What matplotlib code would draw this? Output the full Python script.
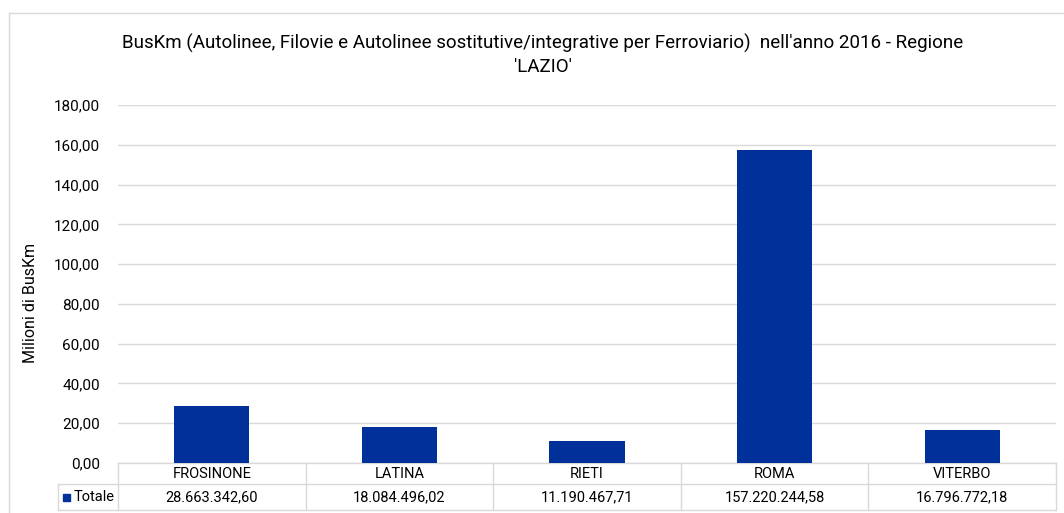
import matplotlib
matplotlib.use("Agg")
from matplotlib import pyplot as plt
import matplotlib.transforms as mtransforms

# data
province = ["FROSINONE", "LATINA", "RIETI", "ROMA", "VITERBO"]
buskm = [28663342.60, 18084496.02, 11190467.71, 157220244.58, 16796772.18]
buskm_labels = ["28.663.342,60", "18.084.496,02", "11.190.467,71", "157.220.244,58", "16.796.772,18"]
yticks = [0, 20, 40, 60, 80, 100, 120, 140, 160, 180]
series_name = "Totale"

narrow = "Roboto"

W, H = 1064, 513
fig = plt.figure(figsize=(W / 100, H / 100), dpi=100)
fig.patch.set_facecolor("white")

grid_col = "#d9d9d9"
bar_col = "#00309a"

# chart border
fig.add_artist(plt.Line2D([9 / W, 9 / W], [0, 1 - 13 / H], color=grid_col, lw=1))
fig.add_artist(plt.Line2D([9 / W, 1], [1 - 13 / H, 1 - 13 / H], color=grid_col, lw=1))

x0, x1, y0, y1 = 118, 1056, 463, 105
ax = fig.add_axes([x0 / W, 1 - y0 / H, (x1 - x0) / W, (y0 - y1) / H])

vals = [v / 1e6 for v in buskm]
ax.bar(range(len(province)), vals, width=0.4, color=bar_col, zorder=3)
ax.set_xlim(-0.5, len(province) - 0.5)
ax.set_ylim(0, 180)
ax.set_yticks(yticks)
ax.set_yticklabels(["%d,00" % t for t in yticks], fontfamily=narrow, fontsize=11)
ax.set_xticks([])
ax.tick_params(axis="y", length=0, pad=13)
ax.grid(axis="y", color=grid_col, lw=1, zorder=0)
for s in ax.spines.values():
    s.set_visible(False)
ax.set_ylabel("Milioni di BusKm", fontfamily=narrow, fontsize=11.5)
# centred on plot area + table, like the original
ax.yaxis.set_label_coords(-80 / (x1 - x0), (y0 - 303) / (y0 - y1))

fig.suptitle("BusKm (Autolinee, Filovie e Autolinee sostitutive/integrative per Ferroviario)  nell'anno 2016 - Regione\n'LAZIO'",
             fontfamily=narrow, fontsize=13.5, y=1 - 34 / H, va="top", x=543 / W, linespacing=1.35)

# data table below the axis
trans = mtransforms.blended_transform_factory(ax.transData, fig.transFigure)
def fy(p):
    return 1 - p / H
r0, r1, r2 = 463, 484, 510
n = len(province)
ln = dict(color=grid_col, lw=1, clip_on=False)
ax.plot([-0.5, n - 0.5], [fy(r0), fy(r0)], transform=trans, **ln)
fig.add_artist(plt.Line2D([58 / W, x1 / W], [fy(r1), fy(r1)], **ln))
fig.add_artist(plt.Line2D([58 / W, x1 / W], [fy(r2), fy(r2)], **ln))
fig.add_artist(plt.Line2D([58 / W, 58 / W], [fy(r1), fy(r2)], **ln))
for i in range(n + 1):
    ax.plot([i - 0.5, i - 0.5], [fy(r0), fy(r2)], transform=trans, **ln)
for i, (p, lab) in enumerate(zip(province, buskm_labels)):
    ax.text(i, fy((r0 + r1) / 2 + 1), p, transform=trans, ha="center", va="center",
            fontfamily=narrow, fontsize=10.5)
    ax.text(i, fy((r1 + r2) / 2), lab, transform=trans, ha="center", va="center",
            fontfamily=narrow, fontsize=10.5)
fig.patches.append(plt.Rectangle((63 / W, fy(501)), 7 / W, 7 / H, color=bar_col,
                                 transform=fig.transFigure, figure=fig))
fig.text(74 / W, fy((r1 + r2) / 2), series_name, ha="left", va="center",
         fontfamily=narrow, fontsize=10.5)

fig.savefig("out.png", dpi=100, facecolor="white")
